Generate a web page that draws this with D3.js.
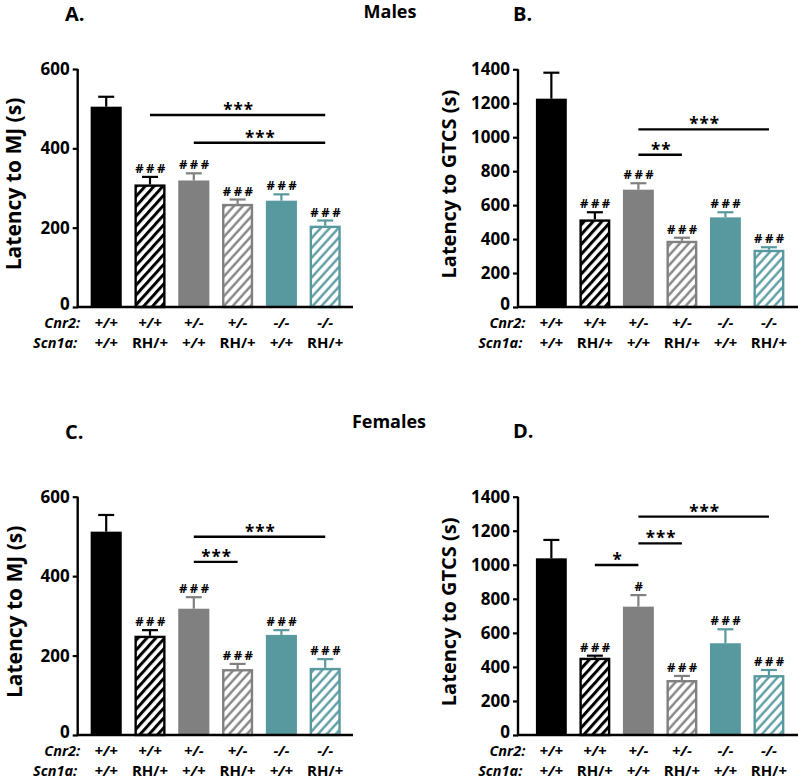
<!DOCTYPE html>
<html>
<head>
<meta charset="utf-8">
<style>
  body { margin: 0; background: #fff; }
  svg { font-family: "Open Sans", sans-serif; font-weight: bold; }
</style>
</head>
<body>
<script src="https://d3js.org/d3.v7.min.js"></script>
<div id="chart"></div>
<script>
// genotypes under each bar
var cnr2 = ["+/+", "+/+", "+/-", "+/-", "-/-", "-/-"];
var scn1a = ["+/+", "RH/+", "+/+", "RH/+", "+/+", "RH/+"];
var barColors = ["#000000", "#000000", "#808080", "#808080", "#5899a0", "#5899a0"];
var hatched = [false, true, false, true, false, true];

// means and SEM
var malesMJ = [505, 309, 319, 260, 268, 205];
var malesMJErr = [25, 19, 18, 11, 16, 13];
var malesGTCS = [1227, 516, 691, 390, 528, 337];
var malesGTCSErr = [153, 42, 38, 18, 30, 15];
var femalesMJ = [512, 250, 318, 166, 252, 169];
var femalesMJErr = [42, 14, 29, 13, 12, 22];
var femalesGTCS = [1038, 454, 754, 323, 539, 352];
var femalesGTCSErr = [108, 12, 68, 24, 82, 30];

// "#" marks above bars
var malesMJHash = ["", "###", "###", "###", "###", "###"];
var malesGTCSHash = ["", "###", "###", "###", "###", "###"];
var femalesMJHash = ["", "###", "###", "###", "###", "###"];
var femalesGTCSHash = ["", "###", "#", "###", "###", "###"];

// comparison brackets: [from bar, to bar, height, stars]
var malesMJSig = [[1, 5, 484, "***"], [2, 5, 414, "***"]];
var malesGTCSSig = [[2, 5, 1046, "***"], [2, 3, 897, "**"]];
var femalesMJSig = [[2, 5, 499, "***"], [2, 3, 436, "***"]];
var femalesGTCSSig = [[2, 5, 1283, "***"], [2, 3, 1126, "***"], [1, 2, 999, "*"]];

var mjTicks = [0, 200, 400, 600];
var gtcsTicks = [0, 200, 400, 600, 800, 1000, 1200, 1400];

var svg = d3.select("#chart").append("svg")
    .attr("width", 800)
    .attr("height", 780);

var defs = svg.append("defs");
function hatch(id, color, w) {
  var p = defs.append("pattern")
      .attr("id", id)
      .attr("patternUnits", "userSpaceOnUse")
      .attr("width", 6.6)
      .attr("height", 10)
      .attr("patternTransform", "rotate(42)");
  p.append("rect").attr("width", 6.6).attr("height", 10).attr("fill", "#fff");
  p.append("line")
      .attr("x1", 1.5).attr("x2", 1.5)
      .attr("y1", 0).attr("y2", 10)
      .attr("stroke", color).attr("stroke-width", w);
}
hatch("h0", "#000000", 3);
hatch("h1", "#808080", 2.3);
hatch("h2", "#5899a0", 2.3);
var hatchIds = ["h0", "h0", "h1", "h1", "h2", "h2"];

function drawPanel(cfg) {
  var g = svg.append("g");

  var x = d3.scaleBand()
      .domain(d3.range(6))
      .range([cfg.x0, cfg.x1])
      .paddingInner(0.29)
      .paddingOuter(0.145);

  var y = d3.scaleLinear()
      .domain([0, cfg.max])
      .range([cfg.bottom, cfg.top]);

  // bars
  g.selectAll("rect.bar")
    .data(cfg.values)
    .enter()
    .append("rect")
      .attr("class", "bar")
      .attr("x", function(d, i) { return hatched[i] ? x(i) + 1.2 : x(i); })
      .attr("y", function(d, i) { return hatched[i] ? y(d) + 1.2 : y(d); })
      .attr("width", function(d, i) { return hatched[i] ? x.bandwidth() - 2.4 : x.bandwidth(); })
      .attr("height", function(d, i) { return hatched[i] ? y(0) - y(d) - 1.2 : y(0) - y(d); })
      .attr("fill", function(d, i) { return hatched[i] ? "url(#" + hatchIds[i] + ")" : barColors[i]; })
      .attr("stroke", function(d, i) { return hatched[i] ? barColors[i] : "none"; })
      .attr("stroke-width", 2.4);

  // error bars (upper only)
  var cx = function(i) { return x(i) + x.bandwidth() / 2; };
  cfg.values.forEach(function(v, i) {
    var top = y(v + cfg.errs[i]);
    g.append("line")
      .attr("x1", cx(i)).attr("x2", cx(i))
      .attr("y1", y(v)).attr("y2", top)
      .attr("stroke", barColors[i]).attr("stroke-width", 2.2);
    g.append("line")
      .attr("x1", cx(i) - 8).attr("x2", cx(i) + 8)
      .attr("y1", top).attr("y2", top)
      .attr("stroke", barColors[i]).attr("stroke-width", 2.2);
    if (cfg.hash[i]) {
      g.append("text")
        .attr("x", cx(i) + 1.5)
        .attr("y", top - 4)
        .attr("text-anchor", "middle")
        .attr("font-size", "13px")
        .attr("letter-spacing", "2.5px")
        .text(cfg.hash[i]);
    }
  });

  // significance brackets
  cfg.sig.forEach(function(s) {
    var ly = y(s[2]);
    g.append("line")
      .attr("x1", cx(s[0])).attr("x2", cx(s[1]))
      .attr("y1", ly).attr("y2", ly)
      .attr("stroke", "#000").attr("stroke-width", 2.4);
    g.append("text")
      .attr("x", (cx(s[0]) + cx(s[1])) / 2 + 1)
      .attr("y", ly + 1)
      .attr("text-anchor", "middle")
      .attr("font-size", "17px")
      .attr("letter-spacing", "1px")
      .text(s[3]);
  });

  // y axis
  var yAxis = g.append("g")
      .attr("transform", "translate(" + cfg.axisX + ",0)")
      .call(d3.axisLeft(y).tickValues(cfg.ticks).tickSize(5).tickPadding(3).tickFormat(d3.format("d")));
  yAxis.select(".domain").attr("stroke-width", 2.4).attr("d", "M0," + cfg.top + "V" + cfg.bottom);
  yAxis.selectAll(".tick line").attr("stroke-width", 2.2);
  yAxis.selectAll(".tick text")
      .attr("font-size", "17px")
      .attr("font-family", "'Open Sans', sans-serif")
      .attr("font-weight", "bold")
      .attr("fill", "#000")
      .attr("dy", function(d) { return d === 0 ? "0.15em" : "0.32em"; });

  // x axis baseline
  g.append("line")
    .attr("x1", cfg.axisX - 1).attr("x2", cfg.axisEnd)
    .attr("y1", cfg.bottom).attr("y2", cfg.bottom)
    .attr("stroke", "#000").attr("stroke-width", 2.6);

  // genotype labels
  var rowLab = cx(0) - 26;
  g.append("text")
    .attr("x", rowLab).attr("y", cfg.bottom + 21)
    .attr("text-anchor", "end").attr("font-size", "14.5px").attr("font-style", "italic")
    .text("Cnr2:");
  g.append("text")
    .attr("x", rowLab - 3).attr("y", cfg.bottom + 41)
    .attr("text-anchor", "end").attr("font-size", "14.5px").attr("font-style", "italic")
    .text("Scn1a:");
  g.selectAll("text.c1")
    .data(cnr2)
    .enter()
    .append("text")
      .attr("class", "c1")
      .attr("x", function(d, i) { return cx(i); })
      .attr("y", cfg.bottom + 21)
      .attr("text-anchor", "middle").attr("font-size", "15px").attr("font-style", "italic")
      .text(function(d) { return d; });
  g.selectAll("text.c2")
    .data(scn1a)
    .enter()
    .append("text")
      .attr("class", "c2")
      .attr("x", function(d, i) { return cx(i); })
      .attr("y", cfg.bottom + 41)
      .attr("text-anchor", "middle").attr("font-size", "15px")
      .attr("font-style", function(d) { return d === "+/+" ? "italic" : "normal"; })
      .text(function(d) { return d; });

  // y label
  g.append("text")
    .attr("transform", "translate(" + cfg.labelX + "," + ((cfg.top + cfg.bottom) / 2 - 4) + ") rotate(-90)")
    .attr("text-anchor", "middle")
    .attr("font-size", cfg.labelSize)
    .text(cfg.yLabel);

  // panel letter
  g.append("text")
    .attr("x", cfg.letterX).attr("y", cfg.letterY)
    .attr("font-size", "20px")
    .text(cfg.letter);
}

drawPanel({ letter: "A.", letterX: 65, letterY: 21, values: malesMJ, errs: malesMJErr, hash: malesMJHash, sig: malesMJSig,
  max: 600, ticks: mjTicks, yLabel: "Latency to MJ (s)", labelX: 21, labelSize: "21px",
  axisX: 77.7, x0: 84.3, x1: 347.1, axisEnd: 353, top: 69, bottom: 307 });
drawPanel({ letter: "B.", letterX: 513, letterY: 21, values: malesGTCS, errs: malesGTCSErr, hash: malesGTCSHash, sig: malesGTCSSig,
  max: 1400, ticks: gtcsTicks, yLabel: "Latency to GTCS (s)", labelX: 456, labelSize: "20px",
  axisX: 518, x0: 529.6, x1: 790.7, axisEnd: 798, top: 69.3, bottom: 307 });
drawPanel({ letter: "C.", letterX: 65, letterY: 439, values: femalesMJ, errs: femalesMJErr, hash: femalesMJHash, sig: femalesMJSig,
  max: 600, ticks: mjTicks, yLabel: "Latency to MJ (s)", labelX: 22, labelSize: "21px",
  axisX: 77.7, x0: 84.3, x1: 347.1, axisEnd: 353, top: 496.7, bottom: 735 });
drawPanel({ letter: "D.", letterX: 513, letterY: 438, values: femalesGTCS, errs: femalesGTCSErr, hash: femalesGTCSHash, sig: femalesGTCSSig,
  max: 1400, ticks: gtcsTicks, yLabel: "Latency to GTCS (s)", labelX: 456, labelSize: "20px",
  axisX: 518, x0: 529.6, x1: 790.7, axisEnd: 798, top: 496.7, bottom: 735 });

svg.append("text").attr("x", 390).attr("y", 18).attr("text-anchor", "middle").attr("font-size", "18px").text("Males");
svg.append("text").attr("x", 389).attr("y", 428).attr("text-anchor", "middle").attr("font-size", "18px").text("Females");
</script>
</body>
</html>
